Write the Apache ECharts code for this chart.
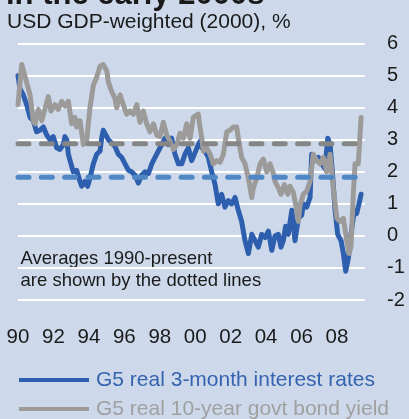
<!DOCTYPE html>
<html>
<head>
<meta charset="utf-8">
<script src="https://cdn.jsdelivr.net/npm/echarts@6/dist/echarts.min.js"></script>
<style>
  html, body { margin: 0; padding: 0; background: #cdd9eb; }
  #main { width: 409px; height: 419px; }
</style>
</head>
<body>
<div id="main"></div>
<script>
// values (decimal years, %)
const blueYears = [1990.0, 1990.11, 1990.30, 1990.49, 1990.68, 1990.86, 1991.05, 1991.24, 1991.43, 1991.62, 1991.81, 1991.99,
  1992.18, 1992.37, 1992.56, 1992.65, 1992.75, 1992.84, 1992.99, 1993.12, 1993.31, 1993.50, 1993.59, 1993.78, 1993.93,
  1994.06, 1994.25, 1994.44, 1994.63, 1994.72, 1994.81, 1995.01, 1995.10, 1995.29, 1995.47, 1995.66, 1995.85,
  1996.04, 1996.23, 1996.41, 1996.60, 1996.79, 1996.98, 1997.17, 1997.36, 1997.55, 1997.73, 1997.92,
  1998.11, 1998.30, 1998.48, 1998.67, 1998.86, 1999.05, 1999.24, 1999.42, 1999.61, 1999.80, 1999.99,
  2000.17, 2000.27, 2000.37, 2000.55, 2000.74, 2000.93, 2001.12, 2001.30, 2001.49, 2001.68, 2001.87,
  2002.06, 2002.25, 2002.43, 2002.62, 2002.81, 2003.00, 2003.19, 2003.38, 2003.56, 2003.75, 2003.94,
  2004.13, 2004.32, 2004.50, 2004.69, 2004.84, 2004.97, 2005.10, 2005.25, 2005.45, 2005.63, 2005.82,
  2006.01, 2006.10, 2006.29, 2006.48, 2006.57, 2006.76, 2006.95, 2007.14, 2007.32, 2007.48, 2007.61, 2007.74, 2007.89,
  2008.04, 2008.23, 2008.36, 2008.49, 2008.64, 2008.79, 2008.98, 2009.11, 2009.24, 2009.36]
const blueValues = [5.0, 4.6, 4.4, 4.1, 3.7, 3.6, 3.25, 3.3, 3.4, 3.15, 3.0, 3.1,
  2.75, 2.7, 2.85, 3.1, 3.0, 2.55, 2.25, 2.0, 2.05, 1.7, 1.55, 1.7, 1.55,
  1.8, 2.25, 2.55, 2.65, 3.05, 3.3, 3.1, 3.0, 2.9, 2.8, 2.55, 2.45,
  2.25, 2.05, 2.0, 1.9, 1.65, 1.9, 2.0, 1.95, 2.25, 2.45, 2.65,
  2.85, 3.05, 2.85, 3.05, 2.55, 2.25, 2.25, 2.55, 2.75, 2.35, 2.6,
  2.85, 2.95, 2.75, 2.65, 2.45, 2.0, 1.6, 1.0, 1.3, 0.9, 1.1,
  1.0, 1.2, 0.8, 0.45, -0.15, -0.55, 0.05, -0.15, -0.35, 0.05, -0.05,
  0.15, -0.45, 0.0, 0.05, -0.35, -0.15, 0.3, 0.05, 0.8, -0.15, 0.55,
  0.65, 1.0, 0.9, 1.2, 2.55, 2.35, 2.45, 2.25, 2.1, 3.05, 2.85, 2.0, 0.8,
  0.05, -0.15, -0.55, -1.1, -0.7, 0.05, 0.8, 0.7, 1.0, 1.3]

const grayYears = [1990.0, 1990.21, 1990.68, 1990.86, 1990.96, 1991.15, 1991.34, 1991.71, 1991.86, 1992.09, 1992.27, 1992.47,
  1992.65, 1992.84, 1993.03, 1993.22, 1993.31, 1993.50, 1993.69, 1993.88, 1994.06, 1994.25, 1994.44, 1994.63, 1994.81,
  1995.01, 1995.10, 1995.29, 1995.47, 1995.57, 1995.76, 1995.94, 1996.13, 1996.32, 1996.51, 1996.70, 1996.88,
  1997.07, 1997.26, 1997.45, 1997.64, 1997.83, 1998.01, 1998.20, 1998.39, 1998.58, 1998.76, 1998.96,
  1999.14, 1999.33, 1999.52, 1999.71, 1999.89, 2000.0, 2000.17, 2000.27, 2000.37, 2000.46, 2000.65, 2000.84,
  2001.02, 2001.21, 2001.40, 2001.59, 2001.78, 2001.96, 2002.15, 2002.34, 2002.43, 2002.62, 2002.81,
  2003.00, 2003.19, 2003.28, 2003.47, 2003.66, 2003.84, 2004.04, 2004.22, 2004.41, 2004.50, 2004.69, 2004.84,
  2005.03, 2005.10, 2005.22, 2005.35, 2005.54, 2005.73, 2005.82, 2005.91, 2006.10, 2006.29, 2006.48, 2006.66, 2006.86,
  2007.04, 2007.23, 2007.42, 2007.61, 2007.79, 2007.99, 2008.17, 2008.36, 2008.55, 2008.68, 2008.79, 2008.92,
  2009.02, 2009.20, 2009.36]
const grayValues = [4.1, 5.35, 4.4, 3.6, 3.5, 3.95, 3.6, 4.35, 3.9, 4.1, 3.95, 4.2,
  4.05, 4.2, 3.5, 3.7, 3.4, 3.6, 2.85, 3.0, 4.0, 4.7, 4.95, 5.3, 5.35,
  5.15, 4.8, 4.5, 4.3, 4.0, 4.4, 4.1, 3.8, 3.9, 3.8, 4.1, 3.55,
  3.9, 3.5, 3.25, 3.5, 3.15, 3.1, 3.55, 3.15, 2.95, 2.7, 2.85,
  3.2, 3.05, 3.5, 3.05, 3.7, 3.7, 3.8, 3.4, 3.05, 2.65, 2.75, 2.55,
  2.25, 2.35, 2.3, 2.55, 3.25, 3.3, 3.4, 3.4, 3.05, 2.45, 2.25,
  1.8, 1.2, 1.5, 1.8, 2.25, 2.4, 2.0, 2.25, 1.95, 1.7, 1.5, 1.3,
  1.6, 1.5, 1.3, 1.55, 1.35, 0.8, 0.45, 0.95, 1.3, 1.4, 1.7, 2.55, 2.35,
  2.25, 2.45, 2.0, 2.55, 1.5, 0.55, 0.45, 0.55, -0.15, -0.55, -0.35, 1.3,
  2.25, 2.25, 3.7]

const blueAverage = 1.83
const grayAverage = 2.88
const yTicks = [-2, -1, 0, 1, 2, 3, 4, 5, 6]
const xTickYears = [1990, 1992, 1994, 1996, 1998, 2000, 2002, 2004, 2006, 2008]

const blueName = 'G5 real 3-month interest rates'
const grayName = 'G5 real 10-year govt bond yield'
const font = 'Liberation Sans, Arial, sans-serif'
const xMin = 1990
const xMax = 2009.58

const pairs = (xs, ys) => xs.map((x, i) => [x, ys[i]])

const myChart = echarts.init(document.getElementById('main'), null, { renderer: 'canvas' })
const option = {
  animation: false,
  backgroundColor: '#cdd9eb',
  textStyle: { fontFamily: font },
  title: [
    {
      text: 'in the early 2000s',
      left: 6, top: -20, padding: 0,
      textStyle: { fontSize: 31, fontWeight: 'bold', color: '#1a1a1a', fontFamily: font }
    },
    {
      text: 'USD GDP-weighted (2000), %',
      left: 7, top: 12, padding: 0,
      textStyle: { fontSize: 21, fontWeight: 'normal', color: '#1a1a1a', fontFamily: font }
    }
  ],
  grid: { left: 18, right: 44, top: 43.7, bottom: 119 },
  xAxis: {
    type: 'value',
    min: xMin,
    max: xMax,
    interval: 2,
    axisLine: { show: false },
    axisTick: { show: false },
    splitLine: { show: false },
    axisLabel: {
      margin: 27,
      fontSize: 20.5,
      color: '#1a1a1a',
      fontFamily: font,
      formatter: v => xTickYears.indexOf(v) >= 0 ? String(v).slice(2) : ''
    }
  },
  yAxis: {
    type: 'value',
    position: 'right',
    min: yTicks[0],
    max: yTicks[yTicks.length - 1],
    interval: 1,
    axisLine: { show: false },
    axisTick: { show: false },
    splitLine: { lineStyle: { color: '#ffffff', width: 2 } },
    axisLabel: { margin: 22, fontSize: 20, color: '#1a1a1a', fontFamily: font }
  },
  legend: {
    orient: 'vertical',
    left: 19, top: 369.5, padding: 0,
    height: 80,
    icon: 'rect',
    itemWidth: 70, itemHeight: 4, itemGap: 8,
    textStyle: { fontSize: 21, fontFamily: font, padding: [0, 0, 0, 2] },
    data: [
      { name: blueName, textStyle: { color: '#3563b0' } },
      { name: grayName, textStyle: { color: '#a0a0a0' } }
    ]
  },
  graphic: [{
    type: 'text',
    left: 20.5, top: 248,
    style: {
      text: 'Averages 1990-present\nare shown by the dotted lines',
      font: '18.5px ' + font,
      lineHeight: 22,
      fill: '#1a1a1a'
    }
  }],
  series: [
    {
      name: blueName, type: 'line', showSymbol: false, color: '#2e5fae',
      lineStyle: { width: 5, join: 'round', cap: 'round' },
      data: pairs(blueYears, blueValues)
    },
    {
      name: grayName, type: 'line', showSymbol: false, color: '#9c9b99',
      lineStyle: { width: 5, join: 'round', cap: 'round' },
      data: pairs(grayYears, grayValues)
    },
    {
      name: 'blueAvg', type: 'line', showSymbol: false, color: '#4f86c4', z: 5,
      lineStyle: { width: 5, type: [11, 12.3], cap: 'round' },
      data: [[xMin, blueAverage], [xMax, blueAverage]]
    },
    {
      name: 'grayAvg', type: 'line', showSymbol: false, color: '#868686', z: 5,
      lineStyle: { width: 5, type: [11, 12.3], cap: 'round' },
      data: [[xMin, grayAverage], [xMax, grayAverage]]
    }
  ]
}
myChart.setOption(option)
</script>
</body>
</html>
